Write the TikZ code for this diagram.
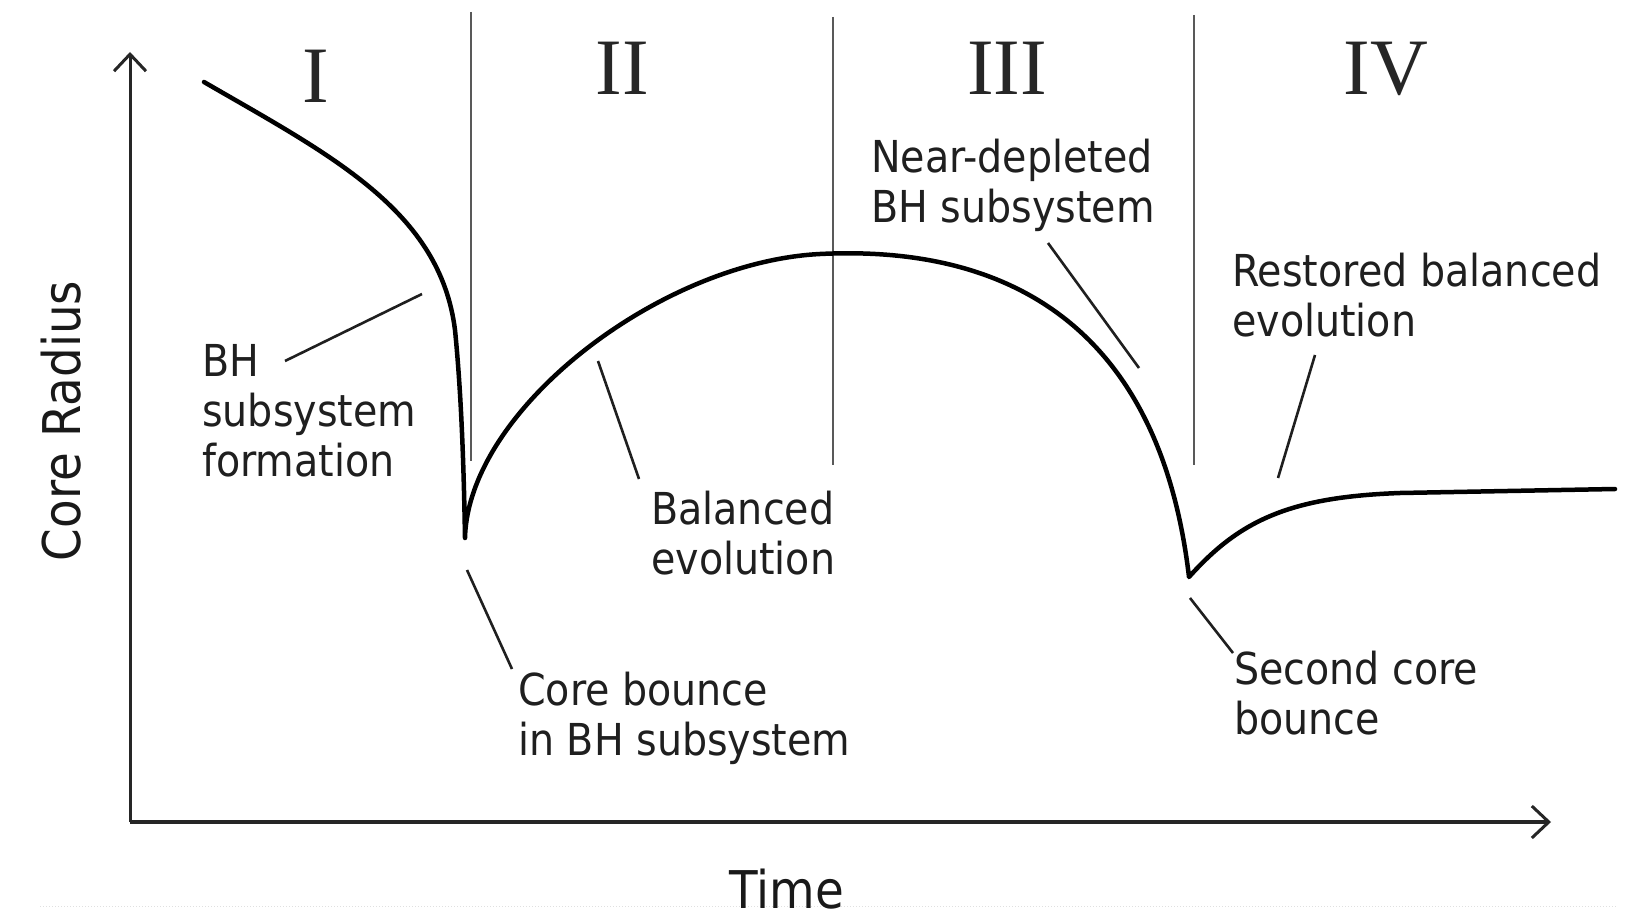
\documentclass[tikz,border=0pt]{standalone}
\usepackage{fontspec}
\usetikzlibrary{arrows.meta}
\newfontfamily\labfont{DejaVu Sans}[FakeStretch=0.9]
\newfontfamily\romfont{Liberation Serif}
\begin{document}
\begin{tikzpicture}[x=1pt,y=-1pt,
  lab/.style={font=\labfont\fontsize{44}{50}\selectfont, text=black!88, align=left, inner sep=0pt, anchor=north west},
  axlab/.style={font=\labfont\fontsize{52}{60}\selectfont, text=black!90, inner sep=0pt, anchor=base},
  roman/.style={font=\romfont\fontsize{80}{90}\selectfont, text=black!85, inner sep=0pt, anchor=base},
  axis/.style={draw=black!85, -{Straight Barb[length=17pt,width=32pt,line width=3pt]}},
  divider/.style={draw=black!65, line width=2pt},
  leader/.style={draw=black!88, line width=2.6pt},
  curve/.style={draw=black, line width=4.5pt, line join=round, line cap=round}]
\useasboundingbox (0,0) rectangle (1639,923);
\fill[white] (0,0) rectangle (1639,923);
% faint dotted line at bottom
\draw[black!12, line width=1pt, dotted] (40,906) -- (1617,906);
% axes
\coordinate (O) at (130,822);
\coordinate (ytip) at (130,52);
\coordinate (xtip) at (1551,822);
\draw[axis, line width=3pt] (O) -- (ytip);
\draw[axis, line width=4pt] (O) -- (xtip);
% dividers
\coordinate (d1t) at (471,12); \coordinate (d1b) at (471,461);
\coordinate (d2t) at (833,17); \coordinate (d2b) at (833,465);
\coordinate (d3t) at (1194,15); \coordinate (d3b) at (1194,465);
\draw[divider] (d1t) -- (d1b);
\draw[divider] (d2t) -- (d2b);
\draw[divider] (d3t) -- (d3b);
% roman numerals
\node[roman] (r1) at (316,103) {I};
\node[roman] (r2) at (622,95) {II};
\node[roman] (r3) at (1007,95) {III};
\node[roman] (r4) at (1386,95) {IV};
% curve
\coordinate (c0) at (204,82);
\coordinate (c1) at (455,330);
\coordinate (dip1) at (465,538);
\coordinate (peak) at (820,254);
\coordinate (dip2) at (1189,577);
\coordinate (c5) at (1400,493);
\coordinate (cend) at (1615,489);
\draw[curve] (c0) .. controls (330,155) and (440,210) .. (c1)
  .. controls (462,400) and (464,480) .. (dip1)
  .. controls (468,410) and (660,262) .. (peak)
  .. controls (1012,244.4) and (1160,330) .. (dip2)
  .. controls (1240,520) and (1290,497) .. (c5)
  -- (cend);
% labels
\node[lab] (bhf) at (202,344) {BH\\subsystem\\formation};
\node[lab] (bal) at (651,491) {Balanced\\evolution};
\node[lab] (cb) at (518,672) {Core bounce\\in BH subsystem};
\node[lab] (nd) at (871,139) {Near-depleted\\BH subsystem};
\node[lab] (rb) at (1232,253) {Restored balanced\\evolution};
\node[lab] (scb) at (1234,651) {Second core\\bounce};
\node[axlab] (time) at (787,908) {Time};
\node[axlab, rotate=90] (cr) at (80,421) {Core Radius};
% leaders
\coordinate (l1a) at (285,361); \coordinate (l1b) at (422,294);
\coordinate (l2a) at (639,479); \coordinate (l2b) at (598,361);
\coordinate (l3a) at (512,669); \coordinate (l3b) at (467,570);
\coordinate (l4a) at (1048,243); \coordinate (l4b) at (1139,368);
\coordinate (l5a) at (1315,355); \coordinate (l5b) at (1278,478);
\coordinate (l6a) at (1233,653); \coordinate (l6b) at (1190,598);
\draw[leader] (l1a) -- (l1b);
\draw[leader] (l2a) -- (l2b);
\draw[leader] (l3a) -- (l3b);
\draw[leader] (l4a) -- (l4b);
\draw[leader] (l5a) -- (l5b);
\draw[leader] (l6a) -- (l6b);
\end{tikzpicture}
\end{document}
